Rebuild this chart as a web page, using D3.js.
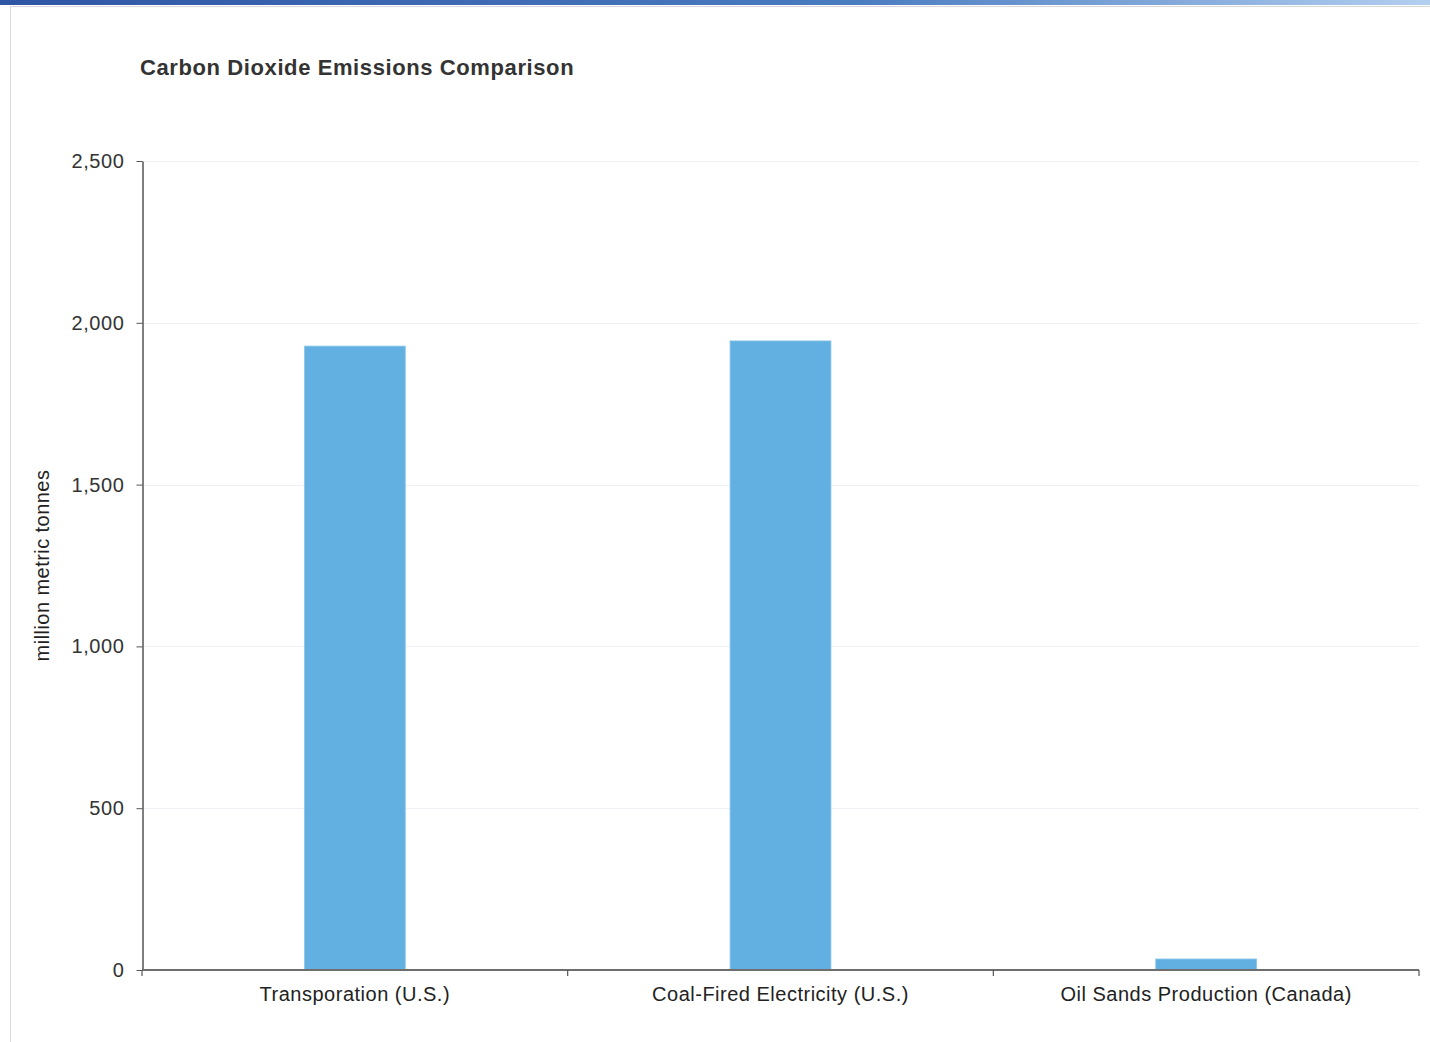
<!DOCTYPE html>
<html>
<head>
<meta charset="utf-8">
<script src="https://cdn.jsdelivr.net/npm/d3@7"></script>
<style>
  html, body { margin: 0; padding: 0; background: #fff; }
  svg { display: block; }
</style>
</head>
<body>
<svg id="chart" width="1430" height="1042"></svg>
<script>
// Data
const categories = ["Transporation (U.S.)", "Coal-Fired Electricity (U.S.)", "Oil Sands Production (Canada)"];
const emissions = [1928, 1944, 34];
const yTicks = [0, 500, 1000, 1500, 2000, 2500];
const chartTitle = "Carbon Dioxide Emissions Comparison";
const yAxisTitle = "million metric tonnes";

(function () {
const W = 1430, H = 1042;
const svg = d3.select("#chart");
const font = "'Liberation Sans', Arial, sans-serif";

// Window frame: gradient header strip and thin page border
const defs = svg.append("defs");
const grad = defs.append("linearGradient").attr("id", "hdr").attr("x1", "0").attr("x2", "1");
grad.append("stop").attr("offset", "0").attr("stop-color", "#2f55a4");
grad.append("stop").attr("offset", "0.6").attr("stop-color", "#4a7cc0");
grad.append("stop").attr("offset", "1").attr("stop-color", "#b3cff0");
svg.append("rect").attr("x", 0).attr("y", 0).attr("width", W).attr("height", 5).attr("fill", "url(#hdr)");
svg.append("line").attr("x1", 10).attr("x2", W).attr("y1", 6.5).attr("y2", 6.5).attr("stroke", "#d8d8d8");
svg.append("line").attr("x1", 10.5).attr("x2", 10.5).attr("y1", 6).attr("y2", H).attr("stroke", "#d8d8d8");

// Plot area
const plotLeft = 142, plotRight = 1419, plotTop = 161, plotBottom = 970;

const x = d3.scaleBand()
  .domain(categories)
  .range([plotLeft, plotRight])
  .paddingInner(0.763)
  .paddingOuter(0.3815);

const xStep = d3.scaleBand().domain(categories).range([plotLeft, plotRight]).padding(0);

const y = d3.scaleLinear().domain([0, 2500]).range([plotBottom, plotTop]);

// Horizontal grid
svg.append("g")
  .selectAll("line")
  .data(yTicks.filter(d => d > 0))
  .join("line")
  .attr("x1", plotLeft).attr("x2", plotRight)
  .attr("y1", d => Math.round(y(d)) + 0.5).attr("y2", d => Math.round(y(d)) + 0.5)
  .attr("stroke", "#eef2f6").attr("stroke-width", 1);

// Bars
svg.append("g")
  .selectAll("rect")
  .data(categories.map((c, i) => ({ c, v: emissions[i] })))
  .join("rect")
  .attr("x", d => x(d.c))
  .attr("width", x.bandwidth())
  .attr("y", d => y(d.v))
  .attr("height", d => y(0) - y(d.v))
  .attr("fill", "#62b0e1")
  .attr("stroke", "#8cc6ea")
  .attr("stroke-width", 0.8);

// Y axis
const yAxis = svg.append("g")
  .attr("transform", `translate(${plotLeft + 0.5},0)`)
  .call(d3.axisLeft(y).tickValues(yTicks).tickFormat(d3.format(",")).tickSize(6).tickSizeOuter(0));
yAxis.select(".domain").attr("stroke", "#555").attr("stroke-width", 1.5);
yAxis.selectAll(".tick line").attr("stroke", "#555");
yAxis.selectAll(".tick text")
  .attr("x", -18)
  .attr("font-family", font).attr("font-size", 20).attr("letter-spacing", 0.6).attr("fill", "#333");

// X axis with boundary ticks
const xg = svg.append("g").attr("transform", `translate(0,${plotBottom})`);
xg.append("line")
  .attr("x1", plotLeft).attr("x2", plotRight)
  .attr("y1", 0).attr("y2", 0)
  .attr("stroke", "#6e6e6e").attr("stroke-width", 2);
const bounds = categories.map(c => xStep(c)).concat([plotRight]);
xg.selectAll("line.bound")
  .data(bounds)
  .join("line")
  .attr("class", "bound")
  .attr("x1", d => d).attr("x2", d => d)
  .attr("y1", 0).attr("y2", 6)
  .attr("stroke", "#555").attr("stroke-width", 1.2);
xg.selectAll("text")
  .data(categories)
  .join("text")
  .attr("x", d => xStep(d) + xStep.bandwidth() / 2)
  .attr("y", 31)
  .attr("text-anchor", "middle")
  .attr("font-family", font).attr("font-size", 20).attr("letter-spacing", 0.5).attr("fill", "#222")
  .text(d => d);

// Titles
svg.append("text")
  .attr("x", 140).attr("y", 75)
  .attr("font-family", font).attr("font-size", 22).attr("font-weight", "bold")
  .attr("letter-spacing", 0.6).attr("fill", "#333")
  .text(chartTitle);

svg.append("text")
  .attr("transform", `translate(49,${(plotTop + plotBottom) / 2}) rotate(-90)`)
  .attr("text-anchor", "middle")
  .attr("font-family", font).attr("font-size", 20).attr("letter-spacing", 0.45).attr("fill", "#222")
  .text(yAxisTitle);
})();
</script>
</body>
</html>
